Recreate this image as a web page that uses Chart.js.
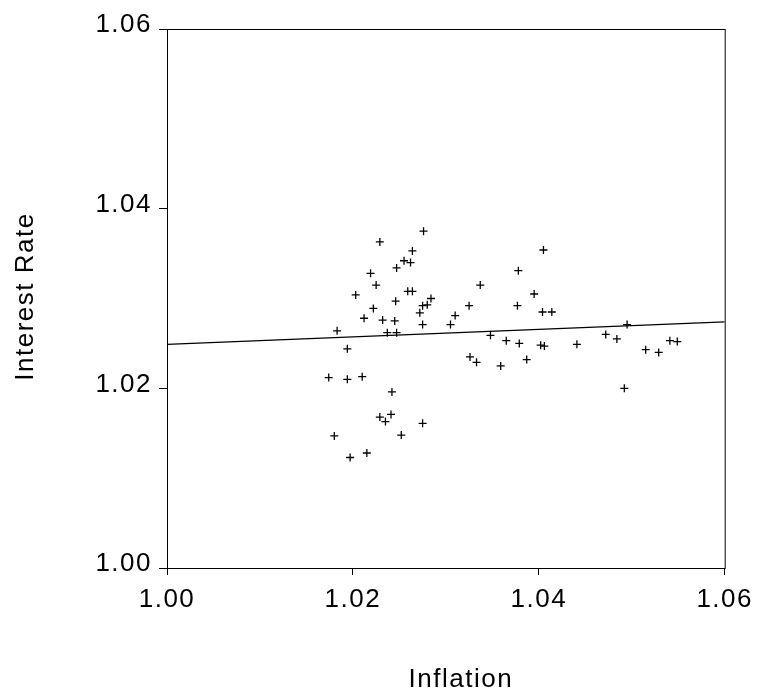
<!DOCTYPE html>
<html>
<head>
<meta charset="utf-8">
<script src="https://cdn.jsdelivr.net/npm/chart.js@4"></script>
<style>
  html, body { margin: 0; padding: 0; background: #fff; }
  #wrap { width: 759px; height: 696px; position: relative; }
</style>
</head>
<body>
<div id="wrap"><canvas id="scatterChart"></canvas></div>
<script>
// values
const inflation = [1.0276, 1.0229, 1.0264, 1.0255, 1.0262, 1.0247, 1.0219, 1.0225, 1.0203, 1.0259,
  1.0264, 1.0246, 1.0284, 1.0280, 1.0275, 1.0222, 1.0272, 1.0212, 1.0232, 1.0245,
  1.0275, 1.0310, 1.0305, 1.0183, 1.0237, 1.0247, 1.0194, 1.0174, 1.0194, 1.0210,
  1.0242, 1.0229, 1.0241, 1.0235, 1.0275, 1.0180, 1.0252, 1.0197, 1.0215, 1.0405,
  1.0378, 1.0337, 1.0395, 1.0325, 1.0377, 1.0404, 1.0414, 1.0348, 1.0365, 1.0379,
  1.0402, 1.0406, 1.0441, 1.0326, 1.0333, 1.0359, 1.0387, 1.0472, 1.0484, 1.0495,
  1.0515, 1.0529, 1.0541, 1.0549, 1.0492];
const interestRate = [1.0375, 1.0363, 1.0353, 1.0342, 1.0340, 1.0334, 1.0328, 1.0315, 1.0304, 1.0308,
  1.0308, 1.0297, 1.0300, 1.0293, 1.0292, 1.0289, 1.0284, 1.0278, 1.0276, 1.0275,
  1.0271, 1.0281, 1.0271, 1.0264, 1.0262, 1.0262, 1.0244, 1.0212, 1.0210, 1.0213,
  1.0196, 1.0168, 1.0171, 1.0163, 1.0161, 1.0147, 1.0148, 1.0123, 1.0128, 1.0354,
  1.0331, 1.0315, 1.0305, 1.0292, 1.0292, 1.0285, 1.0285, 1.0259, 1.0253, 1.0250,
  1.0248, 1.0247, 1.0249, 1.0235, 1.0229, 1.0225, 1.0232, 1.0260, 1.0255, 1.0271,
  1.0243, 1.0240, 1.0253, 1.0252, 1.0200];
const fitX = [1.00, 1.06];
const fitY = [1.0249, 1.0274];
const xTicks = [1.00, 1.02, 1.04, 1.06];
const yTicks = [1.00, 1.02, 1.04, 1.06];

const FONT = '"Liberation Sans", Arial, sans-serif';

// EViews-like look: box round the plot, spaced-out text, axis titles
const frame = {
  id: 'frame',
  beforeDraw(chart) {
    chart.ctx.letterSpacing = '1.5px';
  },
  afterDraw(chart) {
    const {ctx, chartArea: a} = chart;
    ctx.save();
    ctx.strokeStyle = '#000';
    ctx.lineWidth = 1;
    ctx.strokeRect(a.left + 0.5, a.top + 0.5, a.right - a.left, a.bottom - a.top);
    ctx.fillStyle = '#000';
    ctx.font = '26px ' + FONT;
    ctx.textAlign = 'center';
    ctx.textBaseline = 'alphabetic';
    ctx.fillText('Inflation', (a.left + a.right) / 2 + 15, 687);
    ctx.translate(33, (a.top + a.bottom) / 2 - 2);
    ctx.rotate(-Math.PI / 2);
    ctx.fillText('Interest Rate', 0, 0);
    ctx.restore();
  }
};

const ctx = document.getElementById('scatterChart').getContext('2d');
new Chart(ctx, {
  type: 'scatter',
  data: {
    datasets: [{
      data: inflation.map((x, i) => ({x: x, y: interestRate[i]})),
      pointStyle: 'cross',
      pointRadius: 4,
      pointHoverRadius: 4,
      borderColor: '#000',
      backgroundColor: '#000',
      borderWidth: 1.3
    }, {
      data: fitX.map((x, i) => ({x: x, y: fitY[i]})),
      showLine: true,
      pointRadius: 0,
      borderColor: '#000',
      borderWidth: 1.2
    }]
  },
  options: {
    responsive: true,
    maintainAspectRatio: false,
    animation: false,
    layout: { padding: { left: 0, top: 29, right: 34, bottom: 0 } },
    plugins: {
      legend: { display: false },
      tooltip: { enabled: false }
    },
    scales: {
      x: {
        type: 'linear',
        min: 1.00,
        max: 1.06,
        afterBuildTicks: s => { s.ticks = xTicks.map(v => ({value: v})); },
        afterFit: s => { s.height = 128; },
        grid: { drawOnChartArea: false, drawTicks: true, tickLength: 7, color: '#000' },
        border: { display: false },
        ticks: {
          color: '#000',
          padding: 9,
          font: { family: FONT, size: 26 },
          callback: v => v.toFixed(2)
        }
      },
      y: {
        type: 'linear',
        min: 1.00,
        max: 1.06,
        afterBuildTicks: s => { s.ticks = yTicks.map(v => ({value: v})); },
        afterFit: s => { s.width = 167; },
        grid: { drawOnChartArea: false, drawTicks: true, tickLength: 8, color: '#000' },
        border: { display: false },
        ticks: {
          color: '#000',
          padding: 7,
          labelOffset: -4,
          font: { family: FONT, size: 26 },
          callback: v => v.toFixed(2)
        }
      }
    }
  },
  plugins: [frame]
});
</script>
</body>
</html>
